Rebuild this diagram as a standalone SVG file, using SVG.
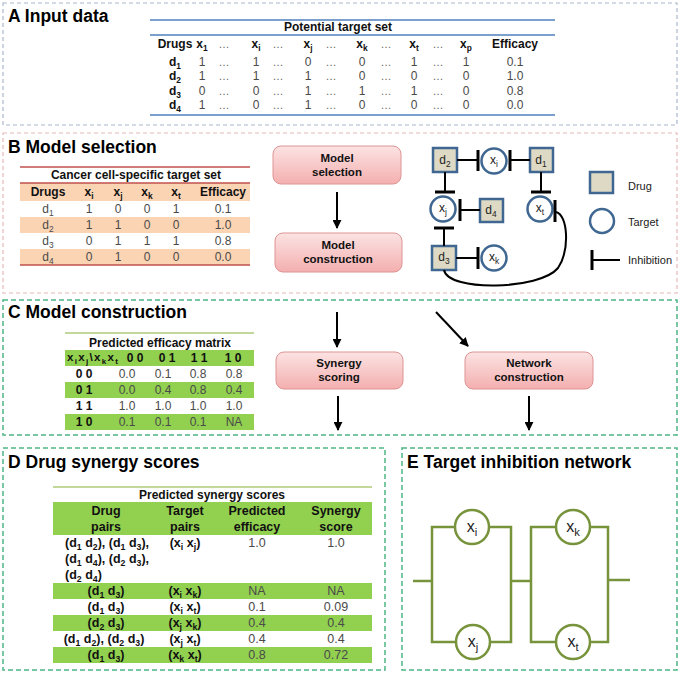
<svg xmlns="http://www.w3.org/2000/svg" width="681" height="675" viewBox="0 0 681 675">
<defs>
<linearGradient id="pk" x1="0" y1="0" x2="0" y2="1">
<stop offset="0" stop-color="#FCE3E3"/>
<stop offset="1" stop-color="#F4AFAF"/>
</linearGradient>
<marker id="ah" viewBox="0 0 10 10" refX="9" refY="5" markerWidth="9" markerHeight="9" markerUnits="userSpaceOnUse" orient="auto">
<path d="M0,0 L10,5 L0,10 z" fill="#000"/>
</marker>
<style>
text { font-family: "Liberation Sans", Arial, sans-serif; }
.title { font-size: 17.5px; font-weight: bold; fill: #000; }
.th { font-size: 12px; font-weight: bold; fill: #111; text-anchor: middle; }
.td { font-size: 12px; fill: #4a4a4a; text-anchor: middle; }
.dots { font-size: 11px; fill: #666; text-anchor: middle; }
.s { font-size: 70%; }
.panelA { fill: none; stroke: #A9B8CC; stroke-width: 1.2; stroke-dasharray: 4 3; }
.panelB { fill: none; stroke: #E6B9B8; stroke-width: 1.2; stroke-dasharray: 4 3; }
.panelG { fill: none; stroke: #4DB585; stroke-width: 1.5; stroke-dasharray: 5 3; }
.blue { stroke: #4F81BD; stroke-width: 1.5; }
.red { stroke: #C0504D; stroke-width: 1.5; }
.olive { stroke: #C4D79B; stroke-width: 2; }
.peach { fill: #FBD4B4; }
.green { fill: #92D050; }
.step rect { fill: url(#pk); stroke: #DE9494; stroke-width: 1; }
.step text { font-size: 11.5px; font-weight: bold; fill: #111; text-anchor: middle; }
.arrow { stroke: #000; stroke-width: 2; fill: none; marker-end: url(#ah); }
.drug rect { fill: #DDD9C4; stroke: #3F6791; stroke-width: 2.5; }
.tgt circle { fill: #fff; stroke: #3F6791; stroke-width: 2.5; }
.nl { font-size: 12px; fill: #222; text-anchor: middle; }
.inh { stroke: #000; stroke-width: 2; fill: none; }
.bar { stroke: #000; stroke-width: 3; }
.leg { font-size: 11px; fill: #222; }
.wire { stroke: #77933C; stroke-width: 2.5; fill: none; }
.en circle { fill: #fff; stroke: #77933C; stroke-width: 2.5; }
.el { font-size: 16px; fill: #222; text-anchor: middle; }
.dr { font-size: 12.5px; font-weight: bold; fill: #111; text-anchor: middle; }
.dv { font-size: 12.5px; fill: #4a4a4a; text-anchor: middle; }
.st { text-anchor: start; }
</style>
</defs>

<!-- Panel frames -->
<g id="frames">
<rect class="panelA" x="3" y="3" width="674" height="122"/>
<rect class="panelB" x="3" y="133" width="674" height="160"/>
<rect class="panelG" x="3" y="300" width="674" height="135"/>
<rect class="panelG" x="3" y="448" width="382" height="222"/>
<rect class="panelG" x="402" y="448" width="275" height="222"/>
</g>

<!-- Titles -->
<g id="titles">
<text class="title" x="8" y="22">A Input data</text>
<text class="title" x="8" y="153">B Model selection</text>
<text class="title" x="8" y="318">C Model construction</text>
<text class="title" x="8" y="468">D Drug synergy scores</text>
<text class="title" x="407" y="468">E Target inhibition network</text>
</g>

<!-- Table A -->
<g id="tableA">
<line class="blue" x1="150" y1="20" x2="555" y2="20"/>
<text class="th" x="338" y="31">Potential target set</text>
<line class="blue" x1="150" y1="35" x2="555" y2="35"/>
<text class="th" x="175" y="48">Drugs</text>
<text class="th" x="202" y="48">x<tspan class="s" dy="3">1</tspan></text>
<text class="dots" x="224" y="48">…</text>
<text class="th" x="256" y="48">x<tspan class="s" dy="3">i</tspan></text>
<text class="dots" x="278" y="48">…</text>
<text class="th" x="308" y="48">x<tspan class="s" dy="3">j</tspan></text>
<text class="dots" x="331" y="48">…</text>
<text class="th" x="362" y="48">x<tspan class="s" dy="3">k</tspan></text>
<text class="dots" x="386" y="48">…</text>
<text class="th" x="414" y="48">x<tspan class="s" dy="3">t</tspan></text>
<text class="dots" x="438" y="48">…</text>
<text class="th" x="466" y="48">x<tspan class="s" dy="3">p</tspan></text>
<text class="th" x="515" y="48">Efficacy</text>

<text class="th" x="175" y="66">d<tspan class="s" dy="3">1</tspan></text>
<text class="td" x="202" y="66">1</text><text class="dots" x="224" y="66">…</text>
<text class="td" x="256" y="66">1</text><text class="dots" x="278" y="66">…</text>
<text class="td" x="308" y="66">0</text><text class="dots" x="331" y="66">…</text>
<text class="td" x="362" y="66">0</text><text class="dots" x="386" y="66">…</text>
<text class="td" x="414" y="66">1</text><text class="dots" x="438" y="66">…</text>
<text class="td" x="466" y="66">1</text><text class="td" x="515" y="66">0.1</text>

<text class="th" x="175" y="80">d<tspan class="s" dy="3">2</tspan></text>
<text class="td" x="202" y="80">1</text><text class="dots" x="224" y="80">…</text>
<text class="td" x="256" y="80">1</text><text class="dots" x="278" y="80">…</text>
<text class="td" x="308" y="80">1</text><text class="dots" x="331" y="80">…</text>
<text class="td" x="362" y="80">0</text><text class="dots" x="386" y="80">…</text>
<text class="td" x="414" y="80">0</text><text class="dots" x="438" y="80">…</text>
<text class="td" x="466" y="80">0</text><text class="td" x="515" y="80">1.0</text>

<text class="th" x="175" y="95">d<tspan class="s" dy="3">3</tspan></text>
<text class="td" x="202" y="95">0</text><text class="dots" x="224" y="95">…</text>
<text class="td" x="256" y="95">0</text><text class="dots" x="278" y="95">…</text>
<text class="td" x="308" y="95">1</text><text class="dots" x="331" y="95">…</text>
<text class="td" x="362" y="95">1</text><text class="dots" x="386" y="95">…</text>
<text class="td" x="414" y="95">1</text><text class="dots" x="438" y="95">…</text>
<text class="td" x="466" y="95">0</text><text class="td" x="515" y="95">0.8</text>

<text class="th" x="175" y="109">d<tspan class="s" dy="3">4</tspan></text>
<text class="td" x="202" y="109">1</text><text class="dots" x="224" y="109">…</text>
<text class="td" x="256" y="109">0</text><text class="dots" x="278" y="109">…</text>
<text class="td" x="308" y="109">1</text><text class="dots" x="331" y="109">…</text>
<text class="td" x="362" y="109">0</text><text class="dots" x="386" y="109">…</text>
<text class="td" x="414" y="109">0</text><text class="dots" x="438" y="109">…</text>
<text class="td" x="466" y="109">0</text><text class="td" x="515" y="109">0.0</text>
<line class="blue" x1="150" y1="115" x2="555" y2="115"/>
</g>

<!-- Table B -->
<g id="tableB">
<line class="red" x1="20" y1="167" x2="250" y2="167"/>
<text class="th" x="136" y="179">Cancer cell-specific target set</text>
<rect class="peach" x="20" y="183" width="230" height="18"/>
<rect class="peach" x="20" y="217" width="230" height="16"/>
<rect class="peach" x="20" y="249" width="230" height="16"/>
<line class="red" x1="20" y1="183" x2="250" y2="183"/>
<text class="th" x="48" y="196">Drugs</text>
<text class="th" x="89" y="196">x<tspan class="s" dy="3">i</tspan></text>
<text class="th" x="118" y="196">x<tspan class="s" dy="3">j</tspan></text>
<text class="th" x="147" y="196">x<tspan class="s" dy="3">k</tspan></text>
<text class="th" x="176" y="196">x<tspan class="s" dy="3">t</tspan></text>
<text class="th" x="223" y="196">Efficacy</text>

<text class="td" x="48" y="213">d<tspan class="s" dy="3">1</tspan></text>
<text class="td" x="89" y="213">1</text><text class="td" x="118" y="213">0</text><text class="td" x="147" y="213">0</text><text class="td" x="176" y="213">1</text><text class="td" x="223" y="213">0.1</text>
<text class="td" x="48" y="229">d<tspan class="s" dy="3">2</tspan></text>
<text class="td" x="89" y="229">1</text><text class="td" x="118" y="229">1</text><text class="td" x="147" y="229">0</text><text class="td" x="176" y="229">0</text><text class="td" x="223" y="229">1.0</text>
<text class="td" x="48" y="245">d<tspan class="s" dy="3">3</tspan></text>
<text class="td" x="89" y="245">0</text><text class="td" x="118" y="245">1</text><text class="td" x="147" y="245">1</text><text class="td" x="176" y="245">1</text><text class="td" x="223" y="245">0.8</text>
<text class="td" x="48" y="261">d<tspan class="s" dy="3">4</tspan></text>
<text class="td" x="89" y="261">0</text><text class="td" x="118" y="261">1</text><text class="td" x="147" y="261">0</text><text class="td" x="176" y="261">0</text><text class="td" x="223" y="261">0.0</text>
<line class="red" x1="20" y1="265" x2="250" y2="265"/>
</g>

<!-- Workflow steps -->
<g id="step-model-selection" class="step">
<rect x="273" y="146" width="128" height="38" rx="8"/>
<text x="337" y="162">Model</text>
<text x="337" y="176">selection</text>
</g>
<g id="step-model-construction" class="step">
<rect x="275" y="233" width="127" height="39" rx="8"/>
<text x="338" y="249">Model</text>
<text x="338" y="263">construction</text>
</g>
<g id="step-synergy-scoring" class="step">
<rect x="276" y="352" width="127" height="37" rx="8"/>
<text x="339" y="367">Synergy</text>
<text x="339" y="381">scoring</text>
</g>
<g id="step-network-construction" class="step">
<rect x="465" y="352" width="128" height="37" rx="8"/>
<text x="529" y="367">Network</text>
<text x="529" y="381">construction</text>
</g>

<!-- Network in B: nodes -->
<g id="d2" class="drug"><rect x="433" y="148" width="24" height="24"/><text class="nl" x="445" y="164">d<tspan class="s" dy="3">2</tspan></text></g>
<g id="xi" class="tgt"><circle cx="494" cy="161" r="12.5"/><text class="nl" x="494" y="164">x<tspan class="s" dy="3">i</tspan></text></g>
<g id="d1" class="drug"><rect x="530" y="148" width="23" height="24"/><text class="nl" x="541" y="164">d<tspan class="s" dy="3">1</tspan></text></g>
<g id="xj" class="tgt"><circle cx="443" cy="209" r="12.5"/><text class="nl" x="443" y="212">x<tspan class="s" dy="3">j</tspan></text></g>
<g id="d4" class="drug"><rect x="480" y="199" width="23" height="23"/><text class="nl" x="491" y="214">d<tspan class="s" dy="3">4</tspan></text></g>
<g id="xt" class="tgt"><circle cx="540" cy="209" r="12.5"/><text class="nl" x="540" y="212">x<tspan class="s" dy="3">t</tspan></text></g>
<g id="d3" class="drug"><rect x="432" y="246" width="24" height="24"/><text class="nl" x="444" y="261">d<tspan class="s" dy="3">3</tspan></text></g>
<g id="xk" class="tgt"><circle cx="494" cy="258" r="12.5"/><text class="nl" x="494" y="261">x<tspan class="s" dy="3">k</tspan></text></g>

<!-- Legend -->
<g id="legend">
<g class="drug"><rect x="590" y="172" width="23" height="21"/></g>
<text class="leg" x="628" y="190">Drug</text>
<g class="tgt"><circle cx="602" cy="221" r="12"/></g>
<text class="leg" x="628" y="226">Target</text>
<line class="bar" x1="592" y1="250" x2="592" y2="270"/>
<line class="inh" x1="592" y1="260" x2="620" y2="260"/>
<text class="leg" x="628" y="264">Inhibition</text>
</g>

<!-- Table C -->
<g id="tableC">
<line class="olive" x1="65" y1="333" x2="254" y2="333"/>
<text class="th" x="160" y="347">Predicted  efficacy matrix</text>
<rect class="green" x="65" y="350" width="189" height="16"/>
<rect class="green" x="65" y="382" width="189" height="16"/>
<rect class="green" x="65" y="414" width="189" height="16"/>
<text class="th st" x="67" y="361" style="font-size:11.5px" letter-spacing="1.3">x<tspan class="s" dy="3">i</tspan><tspan dy="-3">x</tspan><tspan class="s" dy="3">j</tspan><tspan dy="-3">\x</tspan><tspan class="s" dy="3">k</tspan><tspan dy="-3">x</tspan><tspan class="s" dy="3">t</tspan></text>
<text class="th" x="135" y="362">0 0</text>
<text class="th" x="167" y="362">0 1</text>
<text class="th" x="199" y="362">1 1</text>
<text class="th" x="233" y="362">1 0</text>
<text class="th" x="84" y="378">0 0</text>
<text class="td" x="127" y="378">0.0</text><text class="td" x="163" y="378">0.1</text><text class="td" x="198" y="378">0.8</text><text class="td" x="234" y="378">0.8</text>
<text class="th" x="84" y="394">0 1</text>
<text class="td" x="127" y="394">0.0</text><text class="td" x="163" y="394">0.4</text><text class="td" x="198" y="394">0.8</text><text class="td" x="234" y="394">0.4</text>
<text class="th" x="84" y="410">1 1</text>
<text class="td" x="127" y="410">1.0</text><text class="td" x="163" y="410">1.0</text><text class="td" x="198" y="410">1.0</text><text class="td" x="234" y="410">1.0</text>
<text class="th" x="84" y="426">1 0</text>
<text class="td" x="127" y="426">0.1</text><text class="td" x="163" y="426">0.1</text><text class="td" x="198" y="426">0.1</text><text class="td" x="234" y="426">NA</text>
</g>

<!-- Table D -->
<g id="tableD">
<line class="olive" x1="53" y1="487" x2="372" y2="487"/>
<text class="th" x="212" y="499">Predicted  synergy scores</text>
<rect class="green" x="53" y="502" width="319" height="33"/>
<rect class="green" x="53" y="583" width="319" height="16"/>
<rect class="green" x="53" y="615" width="319" height="16"/>
<rect class="green" x="53" y="647" width="319" height="16"/>
<text class="dr" x="106" y="515">Drug</text><text class="dr" x="106" y="531">pairs</text>
<text class="dr" x="185" y="515">Target</text><text class="dr" x="185" y="531">pairs</text>
<text class="dr" x="257" y="515">Predicted</text><text class="dr" x="257" y="531">efficacy</text>
<text class="dr" x="336" y="515">Synergy</text><text class="dr" x="336" y="531">score</text>

<text class="dr st" x="65" y="547">(d<tspan class="s" dy="3">1</tspan><tspan dy="-3"> d</tspan><tspan class="s" dy="3">2</tspan><tspan dy="-3">), (d</tspan><tspan class="s" dy="3">1</tspan><tspan dy="-3"> d</tspan><tspan class="s" dy="3">3</tspan><tspan dy="-3">),</tspan></text>
<text class="dr st" x="65" y="563">(d<tspan class="s" dy="3">1</tspan><tspan dy="-3"> d</tspan><tspan class="s" dy="3">4</tspan><tspan dy="-3">), (d</tspan><tspan class="s" dy="3">2</tspan><tspan dy="-3"> d</tspan><tspan class="s" dy="3">3</tspan><tspan dy="-3">),</tspan></text>
<text class="dr st" x="65" y="579">(d<tspan class="s" dy="3">2</tspan><tspan dy="-3"> d</tspan><tspan class="s" dy="3">4</tspan><tspan dy="-3">)</tspan></text>
<text class="dr" x="185" y="547">(x<tspan class="s" dy="3">i</tspan><tspan dy="-3"> x</tspan><tspan class="s" dy="3">j</tspan><tspan dy="-3">)</tspan></text>
<text class="dv" x="257" y="547">1.0</text><text class="dv" x="336" y="547">1.0</text>

<text class="dr" x="106" y="595">(d<tspan class="s" dy="3">1</tspan><tspan dy="-3"> d</tspan><tspan class="s" dy="3">3</tspan><tspan dy="-3">)</tspan></text>
<text class="dr" x="185" y="595">(x<tspan class="s" dy="3">i</tspan><tspan dy="-3"> x</tspan><tspan class="s" dy="3">k</tspan><tspan dy="-3">)</tspan></text>
<text class="dv" x="257" y="595">NA</text><text class="dv" x="336" y="595">NA</text>

<text class="dr" x="106" y="611">(d<tspan class="s" dy="3">1</tspan><tspan dy="-3"> d</tspan><tspan class="s" dy="3">3</tspan><tspan dy="-3">)</tspan></text>
<text class="dr" x="185" y="611">(x<tspan class="s" dy="3">i</tspan><tspan dy="-3"> x</tspan><tspan class="s" dy="3">t</tspan><tspan dy="-3">)</tspan></text>
<text class="dv" x="257" y="611">0.1</text><text class="dv" x="336" y="611">0.09</text>

<text class="dr" x="106" y="627">(d<tspan class="s" dy="3">2</tspan><tspan dy="-3"> d</tspan><tspan class="s" dy="3">3</tspan><tspan dy="-3">)</tspan></text>
<text class="dr" x="185" y="627">(x<tspan class="s" dy="3">j</tspan><tspan dy="-3"> x</tspan><tspan class="s" dy="3">k</tspan><tspan dy="-3">)</tspan></text>
<text class="dv" x="257" y="627">0.4</text><text class="dv" x="336" y="627">0.4</text>

<text class="dr" x="104" y="643">(d<tspan class="s" dy="3">1</tspan><tspan dy="-3"> d</tspan><tspan class="s" dy="3">2</tspan><tspan dy="-3">), (d</tspan><tspan class="s" dy="3">2</tspan><tspan dy="-3"> d</tspan><tspan class="s" dy="3">3</tspan><tspan dy="-3">)</tspan></text>
<text class="dr" x="185" y="643">(x<tspan class="s" dy="3">j</tspan><tspan dy="-3"> x</tspan><tspan class="s" dy="3">t</tspan><tspan dy="-3">)</tspan></text>
<text class="dv" x="257" y="643">0.4</text><text class="dv" x="336" y="643">0.4</text>

<text class="dr" x="106" y="659">(d<tspan class="s" dy="3">1</tspan><tspan dy="-3"> d</tspan><tspan class="s" dy="3">3</tspan><tspan dy="-3">)</tspan></text>
<text class="dr" x="185" y="659">(x<tspan class="s" dy="3">k</tspan><tspan dy="-3"> x</tspan><tspan class="s" dy="3">t</tspan><tspan dy="-3">)</tspan></text>
<text class="dv" x="257" y="659">0.8</text><text class="dv" x="336" y="659">0.72</text>
</g>

<!-- E network nodes -->
<g id="E-xi" class="en"><circle cx="472" cy="527" r="17"/><text class="el" x="472" y="532">x<tspan class="s" dy="4">i</tspan></text></g>
<g id="E-xj" class="en"><circle cx="473" cy="642" r="17"/><text class="el" x="473" y="647">x<tspan class="s" dy="4">j</tspan></text></g>
<g id="E-xk" class="en"><circle cx="573" cy="527" r="17"/><text class="el" x="573" y="532">x<tspan class="s" dy="4">k</tspan></text></g>
<g id="E-xt" class="en"><circle cx="573" cy="642" r="17"/><text class="el" x="573" y="647">x<tspan class="s" dy="4">t</tspan></text></g>

<!-- Connectors -->
<g id="connectors">
<line class="arrow" x1="337" y1="192" x2="337" y2="228"/>
<line class="arrow" x1="337" y1="312" x2="337" y2="347"/>
<line class="arrow" x1="436" y1="312" x2="468" y2="346"/>
<line class="arrow" x1="338" y1="396" x2="338" y2="430"/>
<line class="arrow" x1="529" y1="396" x2="529" y2="430"/>

<line class="inh" x1="457" y1="160" x2="478" y2="160"/><line class="bar" x1="478" y1="150" x2="478" y2="171"/>
<line class="inh" x1="530" y1="160" x2="510" y2="160"/><line class="bar" x1="510" y1="150" x2="510" y2="171"/>
<line class="inh" x1="445" y1="172" x2="445" y2="192"/><line class="bar" x1="435" y1="192" x2="455" y2="192"/>
<line class="inh" x1="541" y1="172" x2="541" y2="192"/><line class="bar" x1="531" y1="192" x2="551" y2="192"/>
<line class="inh" x1="480" y1="210" x2="460" y2="210"/><line class="bar" x1="460" y1="199" x2="460" y2="221"/>
<line class="inh" x1="444" y1="246" x2="444" y2="228"/><line class="bar" x1="434" y1="228" x2="454" y2="228"/>
<line class="inh" x1="456" y1="258" x2="478" y2="258"/><line class="bar" x1="478" y1="247" x2="478" y2="269"/>
<path class="inh" d="M444,270 C448,292 540,290 558,268 C570,250 568,215 556,212"/><line class="bar" x1="555" y1="200" x2="555" y2="222"/>

<line class="wire" x1="413" y1="581" x2="432" y2="581"/>
<polyline class="wire" points="455,527 432,527 432,642 456,642"/>
<polyline class="wire" points="489,527 511,527 511,642 490,642"/>
<line class="wire" x1="511" y1="581" x2="531" y2="581"/>
<polyline class="wire" points="556,527 531,527 531,642 556,642"/>
<polyline class="wire" points="590,527 608,527 608,642 590,642"/>
<line class="wire" x1="608" y1="580" x2="630" y2="580"/>
</g>
</svg>
